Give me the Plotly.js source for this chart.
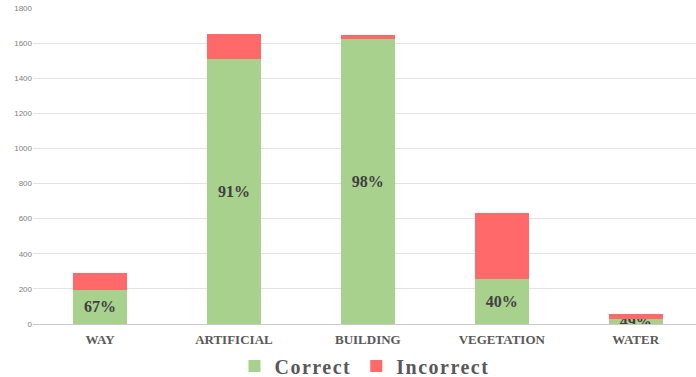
<!DOCTYPE html>
<html>
<head>
<meta charset="utf-8">
<script src="https://cdn.plot.ly/plotly-3.0.1.min.js"></script>
<style>
html,body{margin:0;padding:0;background:#fff;overflow:hidden;}
#chart{width:696px;height:377px;}
.legendtext{letter-spacing:1.5px;}
</style>
</head>
<body>
<div id="chart"></div>
<script>
const categories = ["WAY", "ARTIFICIAL", "BUILDING", "VEGETATION", "WATER"];
const correct = [194, 1507, 1622, 254, 29];
const incorrect = [96, 144, 27, 380, 30];
const pctLabels = ["67%", "91%", "98%", "40%", "49%"];
const seriesNames = ["Correct", "Incorrect"];
const yTicks = [0, 200, 400, 600, 800, 1000, 1200, 1400, 1600, 1800];

const labelFont = {family: "Liberation Serif, Times New Roman, serif", size: 16, color: "#404040", weight: "bold"};

const traces = [
  {
    type: "bar", name: "<b>" + seriesNames[0] + "</b>", x: categories, y: correct,
    marker: {color: "#a9d18e"},
    text: pctLabels, textposition: "inside", insidetextanchor: "middle",
    constraintext: "none", textfont: labelFont, hoverinfo: "none"
  },
  {
    type: "bar", name: "<b>" + seriesNames[1] + "</b>", x: categories, y: incorrect,
    marker: {color: "#ff6969"}, hoverinfo: "none"
  }
];

const layout = {
  width: 696, height: 377,
  margin: {l: 33, r: 0, t: 8, b: 53, autoexpand: false},
  barmode: "stack", bargap: 0.597,
  paper_bgcolor: "#ffffff", plot_bgcolor: "#ffffff",
  showlegend: true,
  legend: {
    orientation: "h", x: 0.5, xanchor: "center", y: -0.133, yanchor: "middle",
    font: {family: "Liberation Serif, Times New Roman, serif", size: 20, color: "#595959"},
    itemwidth: 30, traceorder: "normal"
  },
  xaxis: {
    range: [-0.5, 4.45], showgrid: false, showline: false, ticks: "",
    ticklabelstandoff: 6,
    tickfont: {family: "Liberation Serif, Times New Roman, serif", size: 13, color: "#595959", weight: "bold"},
    fixedrange: true
  },
  yaxis: {
    range: [0, 1800], tickvals: yTicks, ticktext: yTicks.map(String),
    showgrid: true, gridcolor: "#e3e3e3", gridwidth: 1,
    zeroline: true, zerolinecolor: "#c8c8c8", zerolinewidth: 1,
    showline: false, ticks: "",
    tickfont: {family: "Liberation Sans, Arial, sans-serif", size: 8, color: "#808080"},
    fixedrange: true
  }
};

Plotly.newPlot("chart", traces, layout, {displayModeBar: false, staticPlot: true});
</script>
</body>
</html>
